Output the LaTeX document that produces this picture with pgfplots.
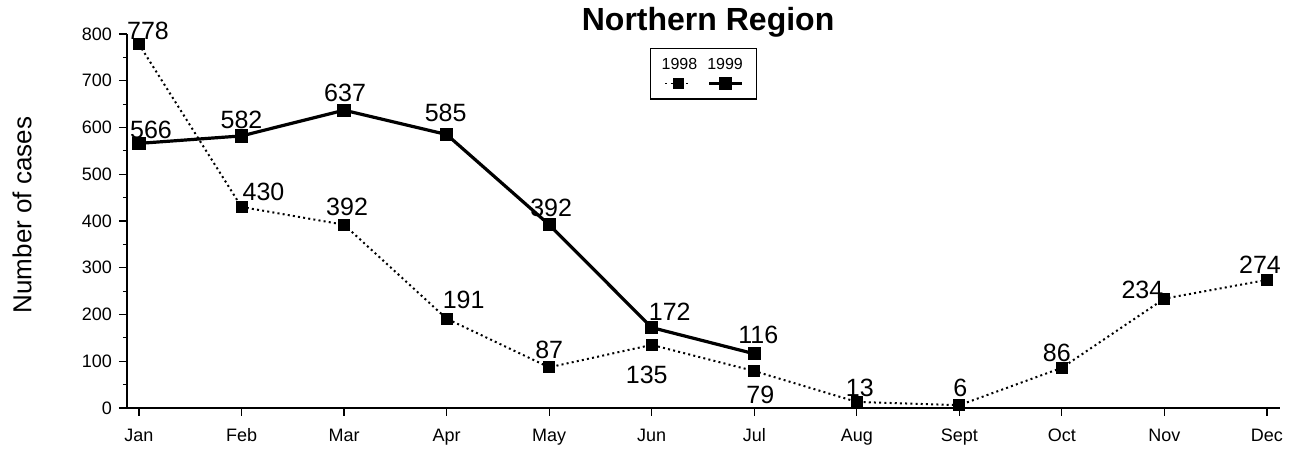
\documentclass[border=0pt]{standalone}
\usepackage{pgfplots}
\pgfplotsset{compat=1.18}
\usepackage{fontspec}
\setmainfont{Liberation Sans}
\pgfplotsset{
  leg98/.style={legend image code/.code={%
    \draw[##1, line width=0.8pt, mark size=2.5pt, mark repeat=2, mark phase=2] plot coordinates {(0pt,0pt) (6.5pt,0pt) (13pt,0pt)};
    \node[font=\fontsize{8}{9}\selectfont, text=black, inner sep=0pt] at (7pt,9pt) {1998};}},
  leg99/.style={legend image code/.code={%
    \draw[##1, line width=1.3pt, mark size=2.5pt, mark repeat=2, mark phase=2] plot coordinates {(0pt,0pt) (8.25pt,0pt) (16.5pt,0pt)};
    \node[font=\fontsize{8}{9}\selectfont, text=black, inner sep=0pt] at (8pt,9pt) {1999};}},
}
\begin{document}
\begin{tikzpicture}
\begin{axis}[
  scale only axis,
  width=576.5pt, height=187pt,
  xmin=-0.117, xmax=11.127,
  ymin=0, ymax=800,
  clip=false,
  axis x line*=bottom,
  axis y line*=left,
  axis line style={line width=1pt},
  tick align=outside,
  tick style={black, line width=0.6pt},
  major tick length=4pt,
  minor tick length=2pt,
  xtick={0,...,11},
  xticklabels={Jan,Feb,Mar,Apr,May,Jun,Jul,Aug,Sept,Oct,Nov,Dec},
  ytick={0,100,...,800},
  minor ytick={50,150,...,750},
  /pgf/number format/assume math mode=true,
  ticklabel style={font=\fontsize{9}{10}\selectfont},
  xticklabel style={text height=6.5pt, text depth=0pt, anchor=north, yshift=-2.5pt},
  ylabel={Number of cases},
  every axis y label/.style={at={(axis description cs:-0.091,0.516)}, rotate=90, anchor=center, font=\fontsize{13}{15}\selectfont},
  every axis title shift=0pt,
  title={\textbf{Northern Region}},
  title style={at={(axis description cs:0.504,1.03)}, anchor=center, font=\fontsize{16}{18}\selectfont},
  legend columns=2,
  legend style={at={(axis description cs:0.5,0.894)}, anchor=center, draw=black, line width=0.8pt,
    inner xsep=5.5pt, inner ysep=5pt, nodes={inner xsep=0pt},
    /tikz/every even column/.style={column sep=4pt}},
]
\addplot[black, line width=1pt, dash pattern=on 1pt off 1.6pt, mark=square*, mark size=2.5pt, mark options={solid}, leg98]
  coordinates {(0,778) (1,430) (2,392) (3,191) (4,87) (5,135) (6,79) (7,13) (8,6) (9,86) (10,234) (11,274)};
\addlegendentry{}
\addplot[black, line width=1.6pt, mark=square*, mark size=2.5pt, leg99]
  coordinates {(0,566) (1,582) (2,637) (3,585) (4,392) (5,172) (6,116)};
\addlegendentry{}
\tikzset{lab/.style={font=\fontsize{12.5}{14}\selectfont, inner sep=0pt, anchor=center}}
% 1998 labels
\node[lab, xshift=4.5pt, yshift=6.5pt] at (axis cs:0,778) {778};
\node[lab, xshift=11pt, yshift=7.5pt] at (axis cs:1,430) {430};
\node[lab, xshift=1.5pt, yshift=9pt] at (axis cs:2,392) {392};
\node[lab, xshift=8.5pt, yshift=9.5pt] at (axis cs:3,191) {191};
\node[lab, xshift=0pt, yshift=8.5pt] at (axis cs:4,87) {87};
\node[lab, xshift=-2.5pt, yshift=-15pt] at (axis cs:5,135) {135};
\node[lab, xshift=3pt, yshift=-12pt] at (axis cs:6,79) {79};
\node[lab, xshift=1.5pt, yshift=7pt] at (axis cs:7,13) {13};
\node[lab, xshift=0.5pt, yshift=8.5pt] at (axis cs:8,6) {6};
\node[lab, xshift=-2.5pt, yshift=7.5pt] at (axis cs:9,86) {86};
\node[lab, xshift=-11pt, yshift=4.5pt] at (axis cs:10,234) {234};
\node[lab, xshift=-3.5pt, yshift=7.5pt] at (axis cs:11,274) {274};
% 1999 labels
\node[lab, xshift=6pt, yshift=6.5pt] at (axis cs:0,566) {566};
\node[lab, xshift=0pt, yshift=8pt] at (axis cs:1,582) {582};
\node[lab, xshift=0.5pt, yshift=8.5pt] at (axis cs:2,637) {637};
\node[lab, xshift=-0.5pt, yshift=11pt] at (axis cs:3,585) {585};
\node[lab, xshift=1pt, yshift=8.5pt] at (axis cs:4,392) {392};
\node[lab, xshift=9pt, yshift=8pt] at (axis cs:5,172) {172};
\node[lab, xshift=2pt, yshift=9.5pt] at (axis cs:6,116) {116};
\end{axis}
\pgfresetboundingbox
\path[use as bounding box] ([shift={(-63.5pt,-20.5pt)}]current axis.south west) rectangle ([shift={(581.5pt,204pt)}]current axis.south west);
\end{tikzpicture}
\end{document}
